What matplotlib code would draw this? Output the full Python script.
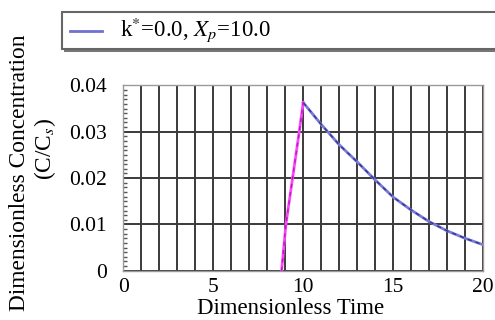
import matplotlib
matplotlib.use("Agg")
import matplotlib.pyplot as plt
from matplotlib.patches import Rectangle
from matplotlib.lines import Line2D

# Data
rise_t = [8.8, 9.04, 9.41, 9.78, 10.0]
rise_c = [0.0, 0.010, 0.020, 0.030, 0.0363]
decay_t = [10, 11, 12, 13, 14, 15, 16, 17, 18, 19, 20]
decay_c = [0.0363, 0.0316, 0.0272, 0.0235, 0.0196, 0.0159, 0.0131, 0.0106, 0.0086, 0.0070, 0.0056]
x_ticks = [0, 5, 10, 15, 20]
y_ticks = [0, 0.01, 0.02, 0.03, 0.04]
y_ticklabels = ["0", "0.01", "0.02", "0.03", "0.04"]
legend_label = r"k$^{*}$=0.0, $X_p$=10.0"

plt.rcParams['font.family'] = ['Liberation Serif', 'DejaVu Serif']
plt.rcParams['mathtext.fontset'] = 'stix'

fig = plt.figure(figsize=(4.95, 3.2), dpi=100)
ax = fig.add_axes([0.249, 0.154, 0.727, 0.579])

ax.set_xlim(0, 20)
ax.set_ylim(0, 0.04)

# grid
for v in range(0, 21):
    ax.axvline(v, color='#3a3a3a', lw=1.4, zorder=1)
for v in y_ticks:
    ax.axhline(v, color='#3a3a3a', lw=1.4, zorder=1)

# curves
ax.plot(decay_t, decay_c, color='#7a7ad8', lw=2.0, zorder=3)
ax.plot(decay_t, decay_c, color='#35358f', lw=1.0, ls=(0, (3, 3)), zorder=4)
ax.plot(rise_t, rise_c, color='#ff44ff', lw=2.0, zorder=3)
ax.plot(rise_t, rise_c, color='#b020b0', lw=1.0, ls=(0, (3, 3)), zorder=4)

ax.set_xticks(x_ticks)
ax.set_yticks(y_ticks)
ax.set_yticklabels(y_ticklabels)
ax.set_yticks([i * 0.001 for i in range(41)], minor=True)
ax.tick_params(axis='both', which='major', labelsize=15.5, length=0)
ax.tick_params(axis='y', which='major', pad=12)
ax.tick_params(axis='x', which='major', pad=5)
ax.tick_params(axis='y', which='minor', direction='in', length=3, width=1.0, color='#555555')
ax.tick_params(axis='x', which='minor', length=0)
for s in ax.spines.values():
    s.set_color('#9a9a9a')
    s.set_linewidth(1.0)

ax.set_xlabel("Dimensionless Time", fontsize=16.4, labelpad=0)
ax.xaxis.set_label_coords(0.465, -0.145)
fig.text(0.040, 0.46, "Dimensionless Concentration", rotation=90, fontsize=16.8,
         ha='center', va='center')
fig.text(0.090, 0.535, r"(C/C$_s$)", rotation=90, fontsize=16.8, ha='center', va='center')

# legend box
shadow = Rectangle((64 / 495, 1 - 52 / 320), 440 / 495, 38 / 320, transform=fig.transFigure,
                   facecolor='#777777', edgecolor='none', zorder=1)
box = Rectangle((62 / 495, 1 - 49 / 320), 440 / 495, 37 / 320, transform=fig.transFigure,
                facecolor='white', edgecolor='#666666', lw=1.5, zorder=2)
fig.patches.extend([shadow, box])
fig.lines.append(Line2D([70 / 495, 102 / 495], [1 - 31 / 320, 1 - 31 / 320],
                        transform=fig.transFigure, color='#7070d0', lw=2, zorder=3))
fig.text(120 / 495, 1 - 30 / 320, legend_label, fontsize=16.5, ha='left', va='center', zorder=4)

fig.savefig("out.png", dpi=100)
